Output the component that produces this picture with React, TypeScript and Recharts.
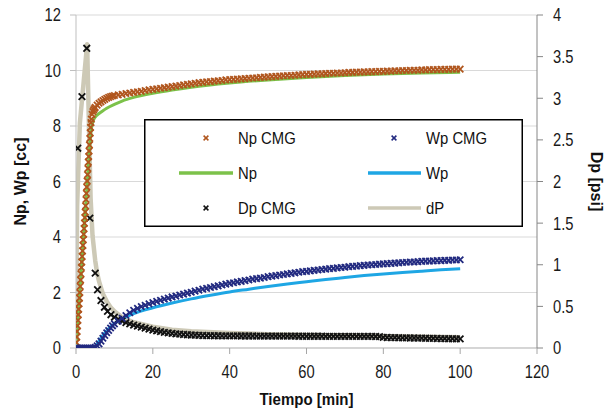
import React from 'react';
import { ComposedChart, Line, Scatter, XAxis, YAxis, CartesianGrid, Legend } from 'recharts';

type Pair = [number, number];

// Axis ticks
const X_TICKS = [0, 20, 40, 60, 80, 100, 120];
const LEFT_TICKS = [0, 2, 4, 6, 8, 10, 12];
const RIGHT_TICKS = [0, 0.5, 1, 1.5, 2, 2.5, 3, 3.5, 4];

// Np CMG [cc] vs time [min]
const npCmg: Pair[] = [
  [0, 0], [0.1, 0.2], [0.2, 0.4], [0.3, 0.6], [0.4, 0.8], [0.5, 1.0], [0.6, 1.2], [0.7, 1.4], [0.8, 1.6], [0.9, 1.8],
  [1, 2.0], [1.1, 2.22], [1.2, 2.45], [1.3, 2.67], [1.4, 2.9], [1.5, 3.1], [1.6, 3.3], [1.7, 3.5], [1.8, 3.7], [1.9, 3.9],
  [2, 4.1], [2.1, 4.3], [2.2, 4.5], [2.3, 4.7], [2.4, 4.9], [2.5, 5.12], [2.6, 5.35], [2.7, 5.57], [2.8, 5.8], [2.9, 6.02],
  [3, 6.25], [3.1, 6.47], [3.2, 6.7], [3.3, 6.9], [3.4, 7.1], [3.5, 7.32], [3.6, 7.55], [3.7, 7.75], [3.8, 7.95], [3.9, 8.12],
  [4, 8.25], [4.2, 8.42], [4.4, 8.52], [4.6, 8.58], [4.8, 8.63], [5, 8.67], [5.5, 8.75], [6, 8.82], [6.5, 8.87], [7, 8.92],
  [7.5, 8.96], [8, 9.0], [8.5, 9.03], [9, 9.06], [9.5, 9.08], [10, 9.1],
  [11, 9.12], [12, 9.14], [13, 9.17], [14, 9.19], [15, 9.21], [16, 9.23], [17, 9.25], [18, 9.28], [19, 9.3], [20, 9.32],
  [21, 9.34], [22, 9.36], [23, 9.38], [24, 9.4], [25, 9.42], [26, 9.44], [27, 9.46], [28, 9.48], [29, 9.5], [30, 9.52],
  [31, 9.54], [32, 9.56], [33, 9.57], [34, 9.59], [35, 9.6], [36, 9.62], [37, 9.63], [38, 9.64], [39, 9.66], [40, 9.67],
  [41, 9.68], [42, 9.69], [43, 9.7], [44, 9.71], [45, 9.72], [46, 9.73], [47, 9.74], [48, 9.75], [49, 9.76], [50, 9.77],
  [51, 9.78], [52, 9.79], [53, 9.8], [54, 9.81], [55, 9.82], [56, 9.82], [57, 9.83], [58, 9.84], [59, 9.85], [60, 9.86],
  [61, 9.86], [62, 9.87], [63, 9.88], [64, 9.88], [65, 9.89], [66, 9.9], [67, 9.9], [68, 9.91], [69, 9.91], [70, 9.92],
  [71, 9.93], [72, 9.93], [73, 9.94], [74, 9.94], [75, 9.95], [76, 9.95], [77, 9.96], [78, 9.96], [79, 9.97], [80, 9.97],
  [81, 9.98], [82, 9.98], [83, 9.99], [84, 9.99], [85, 10.0], [86, 10.0], [87, 10.01], [88, 10.01], [89, 10.01], [90, 10.02],
  [91, 10.02], [92, 10.03], [93, 10.03], [94, 10.03], [95, 10.04], [96, 10.04], [97, 10.04], [98, 10.05], [99, 10.05], [100, 10.05],
];

// Wp CMG [cc] vs time [min]
const wpCmg: Pair[] = [
  [0, 0], [0.5, 0], [1, 0], [1.5, 0], [2, 0], [2.5, 0], [3, 0], [3.5, 0], [4, 0], [4.5, 0],
  [5, 0.02], [5.5, 0.08], [6, 0.15], [6.5, 0.25], [7, 0.35], [7.5, 0.45], [8, 0.55], [8.5, 0.63], [9, 0.72], [9.5, 0.8],
  [10, 0.87], [11, 0.97], [12, 1.07], [13, 1.17], [14, 1.27], [15, 1.36], [16, 1.43], [17, 1.49], [18, 1.54], [19, 1.59],
  [20, 1.64], [21, 1.68], [22, 1.72], [23, 1.76], [24, 1.8], [25, 1.84], [26, 1.87], [27, 1.91], [28, 1.94], [29, 1.98],
  [30, 2.01], [31, 2.05], [32, 2.08], [33, 2.12], [34, 2.15], [35, 2.18], [36, 2.21], [37, 2.24], [38, 2.27], [39, 2.3],
  [40, 2.33], [41, 2.35], [42, 2.38], [43, 2.4], [44, 2.43], [45, 2.45], [46, 2.48], [47, 2.5], [48, 2.52], [49, 2.54],
  [50, 2.57], [51, 2.59], [52, 2.61], [53, 2.63], [54, 2.65], [55, 2.67], [56, 2.69], [57, 2.71], [58, 2.73], [59, 2.75],
  [60, 2.76], [61, 2.78], [62, 2.8], [63, 2.81], [64, 2.83], [65, 2.84], [66, 2.86], [67, 2.87], [68, 2.89], [69, 2.9],
  [70, 2.91], [71, 2.93], [72, 2.94], [73, 2.95], [74, 2.97], [75, 2.98], [76, 2.99], [77, 3.0], [78, 3.01], [79, 3.02],
  [80, 3.03], [81, 3.04], [82, 3.05], [83, 3.06], [84, 3.07], [85, 3.08], [86, 3.09], [87, 3.1], [88, 3.1], [89, 3.11],
  [90, 3.12], [91, 3.13], [92, 3.13], [93, 3.14], [94, 3.15], [95, 3.15], [96, 3.16], [97, 3.16], [98, 3.17], [99, 3.17], [100, 3.18],
];

// Dp CMG [psi] vs time [min]
const dpCmg: Pair[] = [
  [0.45, 2.4], [1.55, 3.02], [2.8, 3.6], [3.6, 1.56], [5.0, 0.9], [5.6, 0.7], [6.5, 0.57], [7.4, 0.49], [8.2, 0.44], [9.1, 0.4],
  [10, 0.37], [11, 0.345], [12, 0.325], [13, 0.305], [14, 0.29], [15, 0.275], [16, 0.262], [17, 0.25], [18, 0.238], [19, 0.226],
  [20, 0.215], [21, 0.205], [22, 0.196], [23, 0.188], [24, 0.181], [25, 0.175], [26, 0.17], [27, 0.166], [28, 0.162], [29, 0.159],
  [30, 0.156], [31, 0.154], [32, 0.152], [33, 0.15], [34, 0.149], [35, 0.148], [36, 0.147], [37, 0.147], [38, 0.146], [39, 0.146],
  [40, 0.145], [41, 0.145], [42, 0.145], [43, 0.144], [44, 0.144], [45, 0.144], [46, 0.144], [47, 0.143], [48, 0.143], [49, 0.143],
  [50, 0.143], [51, 0.143], [52, 0.142], [53, 0.142], [54, 0.142], [55, 0.142], [56, 0.142], [57, 0.142], [58, 0.141], [59, 0.141],
  [60, 0.141], [61, 0.141], [62, 0.141], [63, 0.141], [64, 0.141], [65, 0.14], [66, 0.14], [67, 0.14], [68, 0.14], [69, 0.14],
  [70, 0.14], [71, 0.14], [72, 0.14], [73, 0.14], [74, 0.14], [75, 0.139], [76, 0.139], [77, 0.139], [78, 0.138], [79, 0.136],
  [80, 0.128], [81, 0.126], [82, 0.125], [83, 0.124], [84, 0.123], [85, 0.122], [86, 0.121], [87, 0.12], [88, 0.12], [89, 0.119],
  [90, 0.118], [91, 0.117], [92, 0.116], [93, 0.115], [94, 0.114], [95, 0.113], [96, 0.112], [97, 0.111], [98, 0.111], [99, 0.11], [100, 0.11],
];

// Simulated curves
const npSim: Pair[] = [
  [0, 0], [0.5, 1.0], [1, 2.0], [1.5, 3.05], [2, 4.05], [2.5, 5.05], [3, 6.1], [3.5, 7.1], [4, 7.9], [4.5, 8.2],
  [5, 8.32], [6, 8.45], [7, 8.55], [8, 8.64], [10, 8.78], [12, 8.9], [15, 9.03], [20, 9.18], [25, 9.3], [30, 9.4],
  [40, 9.55], [50, 9.66], [60, 9.75], [70, 9.82], [80, 9.87], [90, 9.91], [100, 9.94],
];

const wpSim: Pair[] = [
  [0, 0], [4.5, 0], [5, 0.05], [6, 0.25], [7, 0.45], [8, 0.62], [9, 0.76], [10, 0.88], [12, 1.05], [15, 1.24],
  [20, 1.45], [25, 1.62], [30, 1.77], [35, 1.9], [40, 2.02], [45, 2.12], [50, 2.22], [55, 2.31], [60, 2.39], [65, 2.47],
  [70, 2.54], [75, 2.61], [80, 2.67], [85, 2.72], [90, 2.77], [95, 2.82], [100, 2.86],
];

const dpSim: Pair[] = [
  [0, 0], [0.3, 1.7], [1, 2.7], [2, 3.2], [2.9, 3.65], [3.4, 2.6], [3.8, 1.8], [4.3, 1.35], [5, 1.05], [5.5, 0.9],
  [6, 0.8], [7, 0.65], [8, 0.56], [9, 0.49], [10, 0.44], [12, 0.37], [15, 0.31], [20, 0.255], [25, 0.22], [30, 0.2],
  [40, 0.18], [50, 0.165], [60, 0.157], [70, 0.15], [80, 0.142], [90, 0.135], [100, 0.128],
];

const BROWN = '#b0561e';
const NAVY = '#222a80';
const BLACK = '#111111';
const GREEN = '#7cc24a';
const BLUE = '#1ea6e4';
const TAN = '#cdc9b6';

const FONT = '"Liberation Sans", Arial, Helvetica, sans-serif';

const toPoints = (pairs: Pair[]) => pairs.map(([x, y]) => ({ x, y }));

function XMark({ cx, cy, color, r = 3.2, w = 1.7 }: { cx?: number; cy?: number; color: string; r?: number; w?: number }) {
  if (cx == null || cy == null || Number.isNaN(cx) || Number.isNaN(cy)) return null;
  return (
    <path
      d={`M${cx - r},${cy - r}L${cx + r},${cy + r}M${cx - r},${cy + r}L${cx + r},${cy - r}`}
      stroke={color}
      strokeWidth={w}
      fill="none"
    />
  );
}

const makeTick = (anchor: 'start' | 'middle' | 'end', dy: string) => (props: any) => {
  const { x, y, payload } = props;
  return (
    <g transform={`translate(${x},${y})`}>
      <text
        transform="scale(0.82,1)"
        textAnchor={anchor}
        dy={dy}
        fontSize={18}
        fontFamily={FONT}
        fill="#1a1a1a"
      >
        {String(payload.value)}
      </text>
    </g>
  );
};

type LegendItem = { name: string; kind: 'mark' | 'line'; color: string };
const LEGEND_ROWS: LegendItem[][] = [
  [{ name: 'Np CMG', kind: 'mark', color: BROWN }, { name: 'Wp CMG', kind: 'mark', color: NAVY }],
  [{ name: 'Np', kind: 'line', color: GREEN }, { name: 'Wp', kind: 'line', color: BLUE }],
  [{ name: 'Dp CMG', kind: 'mark', color: BLACK }, { name: 'dP', kind: 'line', color: TAN }],
];

const BOX_W = 379;
const BOX_H = 108;

function LegendBox() {
  const rowY = [19, 54, 89];
  const cols = [
    { mark: 62, lineFrom: 35, lineTo: 89, text: 94 },
    { mark: 250, lineFrom: 224, lineTo: 277, text: 282 },
  ];
  return (
    <svg width={BOX_W} height={BOX_H} style={{ display: 'block' }}>
      <rect x={0.75} y={0.75} width={BOX_W - 1.5} height={BOX_H - 1.5} fill="#ffffff" stroke="#000000" strokeWidth={1.5} />
      {LEGEND_ROWS.map((row, ri) =>
        row.map((item, ci) => {
          const c = cols[ci];
          const y = rowY[ri];
          return (
            <g key={item.name}>
              {item.kind === 'mark' ? (
                <XMark cx={c.mark} cy={y} color={item.color} r={2.4} w={1.5} />
              ) : (
                <line x1={c.lineFrom} y1={y} x2={c.lineTo} y2={y} stroke={item.color} strokeWidth={3.5} />
              )}
              <g transform={`translate(${c.text},${y})`}>
                <text transform="scale(0.9,1)" dy="0.355em" fontSize={16.5} fontFamily={FONT} fill="#111">
                  {item.name}
                </text>
              </g>
            </g>
          );
        })
      )}
    </svg>
  );
}

const xTitle = (props: any) => {
  const vb = props.viewBox || {};
  const cx = (vb.x ?? 76) + (vb.width ?? 461) / 2;
  return (
    <g transform={`translate(${cx},404.5)`}>
      <text transform="scale(0.94,1)" textAnchor="middle" fontSize={16} fontWeight="bold" fontFamily={FONT} fill="#111">
        Tiempo [min]
      </text>
    </g>
  );
};

const leftTitle = () => (
  <text
    transform="translate(25.5,181.5) rotate(-90)"
    textAnchor="middle"
    fontSize={16}
    fontWeight="bold"
    fontFamily={FONT}
    fill="#111"
  >
    Np, Wp [cc]
  </text>
);

const rightTitle = () => (
  <text
    transform="translate(591,181.5) rotate(90)"
    textAnchor="middle"
    fontSize={16}
    fontWeight="bold"
    fontFamily={FONT}
    fill="#111"
  >
    Dp [psi]
  </text>
);

export default function App() {
  return (
    <div style={{ width: 604, height: 413, background: '#ffffff' }}>
      <style>{'body{margin:0;background:#ffffff;}'}</style>
      <ComposedChart width={604} height={413} margin={{ top: 15, right: 0, bottom: 0, left: 0 }}>
        <CartesianGrid yAxisId="left" vertical={false} stroke="#d9d9d9" strokeWidth={1} />
        <XAxis
          type="number"
          dataKey="x"
          domain={[0, 120]}
          ticks={X_TICKS}
          allowDataOverflow
          height={65}
          stroke="#bfbfbf"
          tickLine={{ stroke: '#a6a6a6' }}
          tickSize={6}
          tickMargin={11}
          tick={makeTick('middle', '0.71em')}
          label={xTitle}
        />
        <YAxis
          yAxisId="left"
          type="number"
          dataKey="y"
          domain={[0, 12]}
          ticks={LEFT_TICKS}
          allowDataOverflow
          width={76}
          stroke="#bfbfbf"
          tickLine={{ stroke: '#bfbfbf' }}
          tickSize={6}
          tickMargin={9}
          tick={makeTick('end', '0.355em')}
          label={leftTitle}
        />
        <YAxis
          yAxisId="right"
          orientation="right"
          type="number"
          dataKey="y"
          domain={[0, 4]}
          ticks={RIGHT_TICKS}
          allowDataOverflow
          width={67}
          stroke="#868686"
          tickLine={{ stroke: '#868686' }}
          tickSize={6}
          tickMargin={10}
          tick={makeTick('start', '0.355em')}
          label={rightTitle}
        />
        <Legend
          layout="horizontal"
          verticalAlign="middle"
          align="center"
          content={() => <LegendBox />}
          wrapperStyle={{ position: 'absolute', left: 144, top: 119, width: BOX_W, height: BOX_H }}
        />

        <Line
          yAxisId="right"
          data={toPoints(dpSim)}
          dataKey="y"
          type="linear"
          stroke={TAN}
          strokeWidth={4.5}
          strokeLinejoin="round"
          dot={false}
          activeDot={false}
          isAnimationActive={false}
        />
        <Line
          yAxisId="left"
          data={toPoints(npSim)}
          dataKey="y"
          type="monotone"
          stroke={GREEN}
          strokeWidth={3}
          dot={false}
          activeDot={false}
          isAnimationActive={false}
        />
        <Line
          yAxisId="left"
          data={toPoints(wpSim)}
          dataKey="y"
          type="monotone"
          stroke={BLUE}
          strokeWidth={3}
          dot={false}
          activeDot={false}
          isAnimationActive={false}
        />
        <Scatter
          yAxisId="right"
          data={toPoints(dpCmg)}
          dataKey="y"
          isAnimationActive={false}
          shape={(p: any) => <XMark cx={p.cx} cy={p.cy} color={BLACK} r={3.3} w={1.8} />}
        />
        <Scatter
          yAxisId="left"
          data={toPoints(npCmg)}
          dataKey="y"
          isAnimationActive={false}
          shape={(p: any) => <XMark cx={p.cx} cy={p.cy} color={BROWN} r={3.2} w={1.8} />}
        />
        <Scatter
          yAxisId="left"
          data={toPoints(wpCmg)}
          dataKey="y"
          isAnimationActive={false}
          shape={(p: any) => <XMark cx={p.cx} cy={p.cy} color={NAVY} r={3.2} w={1.8} />}
        />
      </ComposedChart>
    </div>
  );
}
